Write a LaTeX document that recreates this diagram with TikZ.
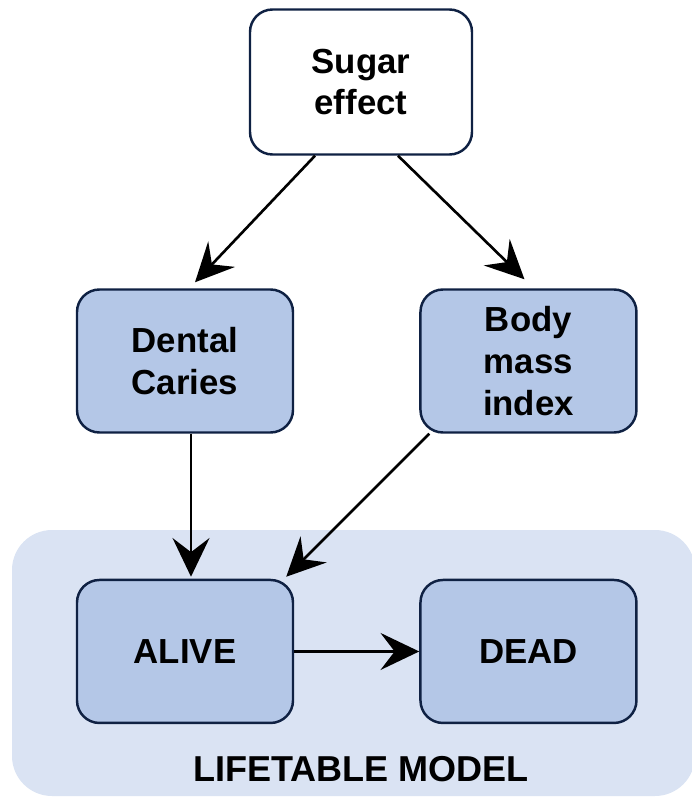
\documentclass[tikz,border=0pt]{standalone}
\usepackage{fontspec}
\setmainfont{Liberation Sans}
\usepackage{xcolor}
\usetikzlibrary{arrows.meta,positioning,calc}

\definecolor{boxline}{HTML}{0F2143}
\definecolor{boxfill}{HTML}{B4C7E7}
\definecolor{modelfill}{HTML}{DAE3F3}

\begin{document}
\begin{tikzpicture}[
  st/.style={draw=boxline, line width=1.4pt, rounded corners=0.45cm, minimum width=4.32cm, minimum height=2.86cm,
    align=center, font=\fontsize{19.8}{23.8}\selectfont\bfseries},
  stblue/.style={st, fill=boxfill},
  arr/.style={-{Stealth[length=22pt, width=21pt, inset=8pt]}, line width=1.5pt},
  lab/.style={font=\fontsize{20.5}{24}\selectfont\bfseries}
]
\useasboundingbox (0,0) rectangle (13.82,-15.94);

% lifetable background
\fill[modelfill, rounded corners=0.8cm] (0.24,-10.6) rectangle (13.9,-15.92);
\node[lab] (model) at (7.22,-15.38) {LIFETABLE MODEL};

\node[st, fill=white, minimum width=4.44cm, minimum height=2.9cm] (sugar) at (7.22,-1.64) {Sugar\\effect};
\node[stblue] (dental) at (3.70,-7.22) {Dental\\Caries};
\node[stblue, right=2.5cm of dental] (bmi) {Body\\mass\\index};
\node[stblue, below=2.9cm of dental] (alive) {ALIVE};
\node[stblue, right=2.5cm of alive] (dead) {DEAD};

\draw[arr] ([xshift=-0.92cm]sugar.south) -- ([xshift=0.2cm, yshift=0.12cm]dental.north);
\draw[arr] ([xshift=0.74cm]sugar.south) -- ([xshift=-0.08cm, yshift=0.18cm]bmi.north);
\draw[arr] ([xshift=0.12cm]dental.south) -- ([xshift=0.12cm, yshift=0.04cm]alive.north);
\draw[arr] ([xshift=0.2cm]bmi.south west) -- ([xshift=-0.16cm, yshift=0.04cm]alive.north east);
\draw[arr] (alive) -- (dead);
\end{tikzpicture}
\end{document}
